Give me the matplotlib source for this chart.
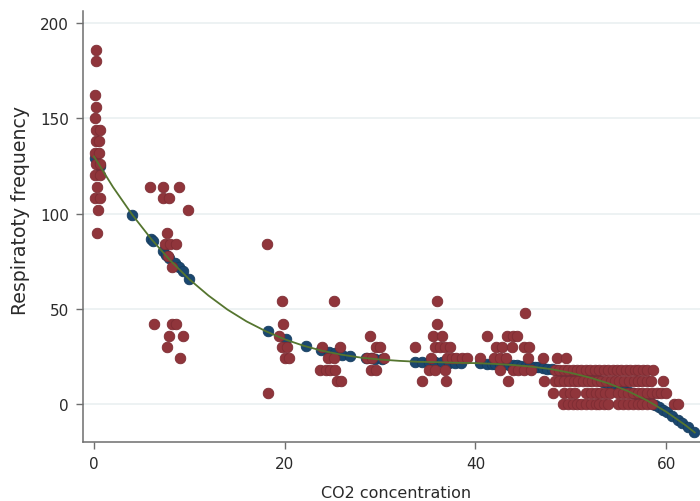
import numpy as np
import matplotlib
matplotlib.use("Agg")
import matplotlib.pyplot as plt

# ---- data ----
# fitted curve (predicted respiratory frequency vs CO2)
curve_x = [0, 2, 4, 6, 8, 10, 12, 14, 16, 18, 20, 22, 24, 26, 28, 30, 32, 34, 36,
           38, 40, 42, 44, 46, 48, 50, 52, 54, 56, 58, 60, 62, 63]
curve_y = [130, 113.9, 99.5, 86.7, 75.4, 65.5, 57.0, 49.6, 43.4, 38.3, 34.0, 30.6,
           27.9, 25.9, 24.4, 23.4, 22.7, 22.2, 22.0, 21.7, 21.5, 21.1, 20.5, 19.6,
           18.3, 16.4, 13.9, 10.8, 6.8, 1.9, -4.0, -11.0, -14.9]

# predicted values at observed x (navy points)
pred_x = [0.1, 0.6, 4.0, 6.0, 6.2, 7.2, 7.6, 7.9, 8.5, 8.9, 9.3, 10.0,
          18.2, 20.1, 22.2, 23.8, 24.6, 25.3, 26.0, 26.8, 28.5, 29.0, 29.5, 30.2,
          33.7, 34.4, 35.1, 35.8, 36.5, 37.2, 37.9, 38.5, 40.5,
          41.2, 41.7, 42.1, 42.6, 43.0, 43.5, 43.9, 44.4, 44.8, 45.3, 45.7, 46.2,
          46.6, 47.1, 47.5, 48.0, 48.4, 48.9, 49.3, 49.8, 50.2, 50.7, 51.1, 51.6,
          52.0, 52.5, 52.9, 53.4, 53.8, 54.3, 54.7, 55.2, 55.6, 56.1, 56.5, 57.0,
          57.4, 57.9, 58.3, 58.8, 59.2, 59.7, 60.1, 60.6, 61.2, 61.7, 62.3, 62.9]
pred_y = [129.2, 125.0, 99.4, 86.8, 85.7, 80.6, 78.5, 76.9, 74.3, 71.8, 69.8, 65.8,
          38.3, 34.0, 30.4, 28.3, 27.4, 26.6, 25.9, 25.2, 24.2, 24.0, 23.8, 23.5,
          22.3, 22.2, 22.0, 22.0, 21.9, 21.8, 21.7, 21.7, 21.4,
          21.3, 21.2, 21.1, 21.0, 20.85, 20.7, 20.55, 20.4, 20.2, 19.95, 19.75, 19.5,
          19.25, 18.9, 18.6, 18.25, 17.9, 17.5, 17.1, 16.6, 16.2, 15.6, 15.1, 14.45,
          13.9, 13.2, 12.6, 11.8, 11.1, 10.2, 9.4, 8.4, 7.6, 6.6, 5.6, 4.4,
          3.4, 2.1, 1.1, -0.3, -1.5, -3.0, -4.3, -6.0, -8.1, -9.9, -12.1, -14.5]

# observed values (maroon points)
obs_x = [
    # x ~ 0
    0.2, 0.2, 0.1, 0.2, 0.1, 0.2, 0.6, 0.2, 0.5, 0.1, 0.5, 0.2, 0.6, 0.1, 0.6, 0.3,
    0.1, 0.6, 0.4, 0.3,
    # x ~ 6-10
    5.9, 7.2, 8.9, 7.2, 7.9, 9.9, 7.7, 7.4, 8.0, 8.6, 7.8, 8.2,
    6.3, 8.2, 8.6, 7.9, 9.3, 7.7, 9.0,
    # x ~ 18-20
    18.1, 18.3, 19.7, 19.8, 19.4, 19.7, 20.2, 20.0, 20.4,
    # x ~ 23-26
    25.2, 23.9, 25.8, 24.5, 25.2, 23.7, 24.3, 24.8, 25.3, 25.5, 25.9,
    # x ~ 28-30
    28.9, 29.6, 30.0, 28.6, 29.2, 30.4, 29.0, 29.6,
    # x ~ 33-39
    33.7, 34.4, 36.0, 36.0, 35.5, 36.5, 35.8, 36.3, 36.8, 37.3,
    35.3, 37.0, 37.5, 38.0, 38.6, 39.1, 35.1, 35.8, 36.8, 36.9,
    # x ~ 40-47
    41.2, 43.3, 43.9, 44.4, 45.2,
    42.2, 42.8, 43.8, 45.1, 45.6,
    40.5, 42.0, 42.6, 43.2, 45.5, 47.1, 48.6, 49.5,
    42.6, 43.9, 44.5, 45.1, 45.8,
    # row 18 (right)
    48.3, 48.8, 49.3, 49.7, 50.2, 50.7, 51.1, 51.6, 52.0, 52.5, 53.0, 53.5, 53.9,
    54.4, 54.8, 55.3, 55.8, 56.2, 56.7, 57.1, 57.6, 58.0, 58.6,
    # row 12
    43.4, 47.2, 48.3, 48.8, 49.3, 49.8, 50.3, 50.8, 51.3, 51.8, 52.2, 52.7, 53.2,
    53.7, 54.2, 54.6, 55.1, 55.6, 56.1, 56.6, 57.0, 57.5, 58.0, 58.4, 59.7,
    # row 6
    48.1, 49.3, 49.9, 50.4, 51.6, 52.1, 52.6, 53.1, 53.6, 54.1, 55.0, 55.5, 56.0,
    56.5, 57.0, 57.5, 58.0, 58.5, 59.0, 59.5, 60.0,
    # row 0
    49.2, 49.7, 50.2, 50.6, 51.1, 51.6, 52.1, 52.6, 53.0, 53.5, 53.9, 55.0, 55.5,
    56.0, 56.5, 57.0, 57.5, 58.0, 58.5, 60.8, 61.2,
]
obs_y = [
    186, 180, 162, 156, 150, 144, 144, 138, 138, 132, 132, 126, 126, 120, 120, 114,
    108, 108, 102, 90,
    114, 114, 114, 108, 108, 102, 90, 84, 84, 84, 78, 72,
    42, 42, 42, 36, 36, 30, 24,
    84, 6, 54, 42, 36, 30, 30, 24, 24,
    54, 30, 30, 24, 24, 18, 18, 18, 18, 12, 12,
    36, 30, 30, 24, 24, 24, 18, 18,
    30, 12, 54, 42, 36, 36, 30, 30, 30, 30,
    24, 24, 24, 24, 24, 24, 18, 18, 18, 12,
    36, 36, 36, 36, 48,
    30, 30, 30, 30, 30,
    24, 24, 24, 24, 24, 24, 24, 24,
    18, 18, 18, 18, 18,
] + [18] * 23 + [12] * 25 + [6] * 21 + [0] * 21

x_ticks = [0, 20, 40, 60]
y_ticks = [0, 50, 100, 150, 200]
x_label = "CO2 concentration"
y_label = "Respiratoty frequency"

# ---- styling ----
navy = "#1a476f"
maroon = "#90353b"
green = "#55752f"

W, H = 700, 502
fig = plt.figure(figsize=(W / 100, H / 100), dpi=100)
fig.patch.set_facecolor("white")
ax = fig.add_axes([83 / W, 59 / H, 617 / W, 431 / H])
ax.set_facecolor("white")

ax.set_xlim(-1.15, 63.55)
ax.set_ylim(-19.9, 206.35)

for yt in y_ticks:
    ax.axhline(yt, color="#eaf0f1", lw=1.2, zorder=0)

ax.scatter(pred_x, pred_y, s=58, color=navy, edgecolors="#163c5e", linewidths=0.6,
           zorder=2)
ax.scatter(obs_x, obs_y, s=58, color=maroon, edgecolors="#7d2c33", linewidths=0.6,
           zorder=3)
ax.plot(curve_x, curve_y, color=green, lw=1.3, zorder=4)

for side in ["top", "right"]:
    ax.spines[side].set_visible(False)
for side in ["left", "bottom"]:
    ax.spines[side].set_color("#6e6e6e")
    ax.spines[side].set_linewidth(1.1)

ax.set_xticks(x_ticks)
ax.set_yticks(y_ticks)
ax.tick_params(axis="both", direction="out", length=5, width=1.0, color="#6e6e6e",
               labelsize=11, labelcolor="#2a2a2a", pad=5)

ax.set_xlabel(x_label, fontsize=11.5, color="#2a2a2a")
ax.xaxis.set_label_coords(0.507, -0.100)
ax.set_ylabel(y_label, fontsize=13.6, color="#2a2a2a", va="center")
ax.yaxis.set_label_coords(-0.102, 0.54)

fig.savefig("out.png", dpi=100, facecolor="white")
